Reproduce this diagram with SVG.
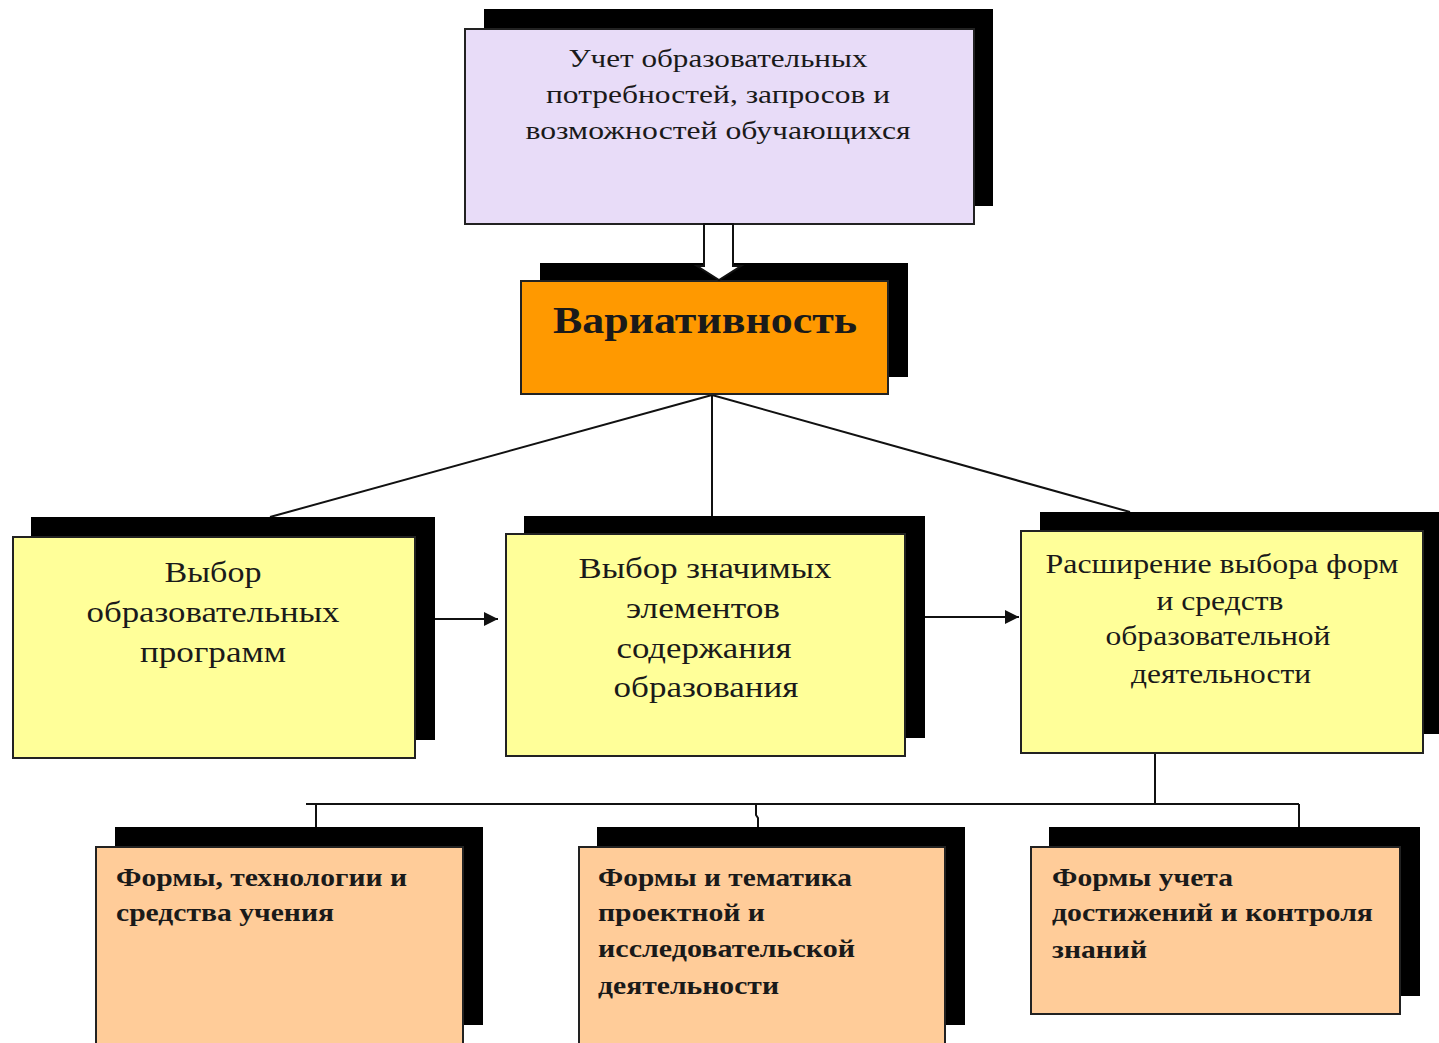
<svg xmlns="http://www.w3.org/2000/svg" width="1439" height="1043" viewBox="0 0 1439 1043">
<style>
.sh{fill:#000}
.bx{stroke:#222;stroke-width:2}
.t{font-family:"Liberation Serif","DejaVu Serif",serif;fill:#1a1a1a}
.c{text-anchor:middle}
.ln{stroke:#111;stroke-width:2;fill:none}
</style>
<defs>
<marker id="ah" viewBox="0 0 10 10" refX="10" refY="5" markerWidth="15" markerHeight="14" markerUnits="userSpaceOnUse" orient="auto">
<path d="M0,0 L10,5 L0,10 z" fill="#111"/>
</marker>
</defs>
<rect width="1439" height="1043" fill="#fff"/>

<g id="connectors">
<path class="ln" d="M712,395 L270,517"/>
<path class="ln" d="M712,395 L712,537"/>
<path class="ln" d="M712,395 L1130,512"/>
<path class="ln" d="M435,619 L498,619" marker-end="url(#ah)"/>
<path class="ln" d="M925,617 L1019,617" marker-end="url(#ah)"/>
<path class="ln" d="M1155,753 L1155,804"/>
<path class="ln" d="M306,804 L1299,804"/>
<path class="ln" d="M316,804 L316,828"/>
<path class="ln" d="M756,804 L756,815 L758,818 L758,828"/>
<path class="ln" d="M1299,804 L1299,828"/>
</g>

<g id="node-top">
<rect class="sh" x="484" y="9" width="509" height="197"/>
<rect class="bx" x="465" y="29" width="509" height="195" fill="#e8dcf8"/>
<text class="t c" font-size="26" x="718" y="67" textLength="299" lengthAdjust="spacingAndGlyphs">Учет образовательных</text>
<text class="t c" font-size="26" x="718" y="103" textLength="344" lengthAdjust="spacingAndGlyphs">потребностей, запросов и</text>
<text class="t c" font-size="26" x="718" y="139" textLength="385" lengthAdjust="spacingAndGlyphs">возможностей обучающихся</text>
</g>

<g id="node-variativnost">
<rect class="sh" x="540" y="263" width="368" height="114"/>
<rect class="bx" x="521" y="281" width="367" height="113" fill="#ff9900"/>
<text class="t c" font-size="38" font-weight="bold" x="705" y="333" textLength="304" lengthAdjust="spacingAndGlyphs">Вариативность</text>
</g>

<g id="block-arrow">
<path d="M704,224 L733,224 L733,266 L741,266 L719,280 L697,266 L704,266 Z" fill="#fff" stroke="#111" stroke-width="2"/>
</g>

<g id="node-y1">
<rect class="sh" x="31" y="517" width="404" height="223"/>
<rect class="bx" x="13" y="537" width="402" height="221" fill="#ffff99"/>
<text class="t c" font-size="29" x="213" y="582" textLength="97" lengthAdjust="spacingAndGlyphs">Выбор</text>
<text class="t c" font-size="29" x="213" y="622" textLength="253" lengthAdjust="spacingAndGlyphs">образовательных</text>
<text class="t c" font-size="29" x="213" y="662" textLength="146" lengthAdjust="spacingAndGlyphs">программ</text>
</g>

<g id="node-y2">
<rect class="sh" x="524" y="516" width="401" height="222"/>
<rect class="bx" x="506" y="534" width="399" height="222" fill="#ffff99"/>
<text class="t c" font-size="29" x="705" y="578" textLength="253" lengthAdjust="spacingAndGlyphs">Выбор значимых</text>
<text class="t c" font-size="29" x="703" y="618" textLength="154" lengthAdjust="spacingAndGlyphs">элементов</text>
<text class="t c" font-size="29" x="704" y="658" textLength="175" lengthAdjust="spacingAndGlyphs">содержания</text>
<text class="t c" font-size="29" x="706" y="697" textLength="185" lengthAdjust="spacingAndGlyphs">образования</text>
</g>

<g id="node-y3">
<rect class="sh" x="1040" y="512" width="399" height="222"/>
<rect class="bx" x="1021" y="531" width="402" height="222" fill="#ffff99"/>
<text class="t c" font-size="27" x="1222" y="573" textLength="353" lengthAdjust="spacingAndGlyphs">Расширение выбора форм</text>
<text class="t c" font-size="27" x="1220" y="610" textLength="127" lengthAdjust="spacingAndGlyphs">и средств</text>
<text class="t c" font-size="27" x="1218" y="645" textLength="225" lengthAdjust="spacingAndGlyphs">образовательной</text>
<text class="t c" font-size="27" x="1221" y="683" textLength="180" lengthAdjust="spacingAndGlyphs">деятельности</text>
</g>

<g id="node-p1">
<rect class="sh" x="115" y="827" width="368" height="198"/>
<rect class="bx" x="96" y="847" width="367" height="200" fill="#ffcc99"/>
<text class="t" font-size="26" font-weight="bold" x="116" y="886" textLength="291" lengthAdjust="spacingAndGlyphs">Формы, технологии и</text>
<text class="t" font-size="26" font-weight="bold" x="116" y="921" textLength="218" lengthAdjust="spacingAndGlyphs">средства учения</text>
</g>

<g id="node-p2">
<rect class="sh" x="597" y="827" width="368" height="198"/>
<rect class="bx" x="579" y="847" width="366" height="200" fill="#ffcc99"/>
<text class="t" font-size="26" font-weight="bold" x="598" y="886" textLength="254" lengthAdjust="spacingAndGlyphs">Формы и тематика</text>
<text class="t" font-size="26" font-weight="bold" x="598" y="921" textLength="167" lengthAdjust="spacingAndGlyphs">проектной и</text>
<text class="t" font-size="26" font-weight="bold" x="598" y="957" textLength="257" lengthAdjust="spacingAndGlyphs">исследовательской</text>
<text class="t" font-size="26" font-weight="bold" x="598" y="994" textLength="181" lengthAdjust="spacingAndGlyphs">деятельности</text>
</g>

<g id="node-p3">
<rect class="sh" x="1049" y="827" width="371" height="169"/>
<rect class="bx" x="1031" y="847" width="369" height="167" fill="#ffcc99"/>
<text class="t" font-size="26" font-weight="bold" x="1052" y="886" textLength="181" lengthAdjust="spacingAndGlyphs">Формы учета</text>
<text class="t" font-size="26" font-weight="bold" x="1052" y="921" textLength="321" lengthAdjust="spacingAndGlyphs">достижений и контроля</text>
<text class="t" font-size="26" font-weight="bold" x="1052" y="958" textLength="95" lengthAdjust="spacingAndGlyphs">знаний</text>
</g>
</svg>
